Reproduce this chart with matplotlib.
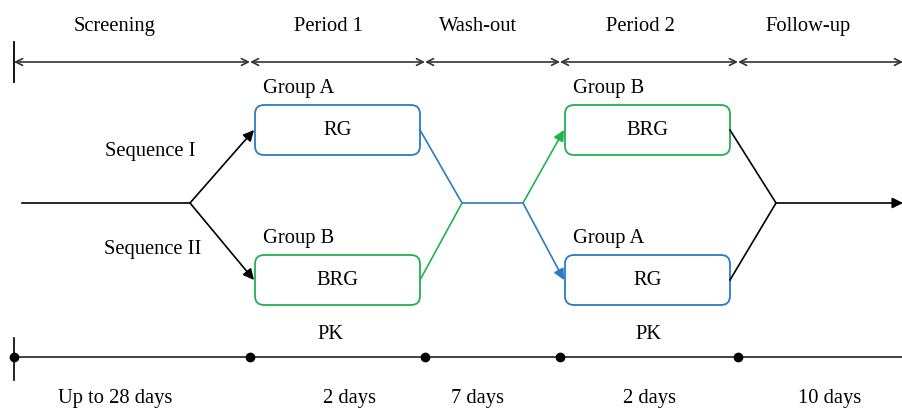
import matplotlib.pyplot as plt
from matplotlib.patches import FancyBboxPatch

plt.rcParams['font.family'] = ['Liberation Serif', 'DejaVu Serif']

# Labels
phases = ['Screening', 'Period 1', 'Wash-out', 'Period 2', 'Follow-up']
durations = ['Up to 28 days', '2 days', '7 days', '2 days', '10 days']
sequences = ['Sequence I', 'Sequence II']
groups_p1 = ['Group A', 'Group B']
groups_p2 = ['Group B', 'Group A']
drugs_p1 = ['RG', 'BRG']
drugs_p2 = ['BRG', 'RG']
pk_label = 'PK'

blue = '#2a7cc2'
green = '#23b14d'

# layout (pixel coordinates)
bounds = [14, 250, 425, 560, 738, 903]
phase_x = [115, 328, 478, 640, 808]
dur_x = [115, 350, 478, 650, 830]
top_y, bot_y, mid_y = 62, 357, 203
row_y = [130, 280]
fs = 14.8

fig = plt.figure(figsize=(9.03, 4.08), dpi=100)
ax = fig.add_axes([0, 0, 1, 1])
ax.set_xlim(0, 903)
ax.set_ylim(408, 0)
ax.axis('off')

# top timeline
ax.plot([14, 14], [42, 82], color='black', lw=1.3)
for i, name in enumerate(phases):
    ax.annotate('', xy=(bounds[i + 1], top_y), xytext=(bounds[i], top_y),
                arrowprops=dict(arrowstyle='<->', color='#333333', lw=1.2,
                                shrinkA=0, shrinkB=0, mutation_scale=12))
    ax.text(phase_x[i], 31, name, ha='center', va='baseline', fontsize=fs)

# boxes
def box(x0, y0, color, group, drug):
    ax.add_patch(FancyBboxPatch((x0, y0), 165, 50,
                                boxstyle='round,pad=0,rounding_size=9',
                                fc='white', ec=color, lw=1.3))
    ax.text(x0 + 8, y0 - 12, group, ha='left', va='baseline', fontsize=fs)
    ax.text(x0 + 83, y0 + 30, drug, ha='center', va='baseline', fontsize=fs)

box(255, 105, blue, groups_p1[0], drugs_p1[0])
box(255, 255, green, groups_p1[1], drugs_p1[1])
box(565, 105, green, groups_p2[0], drugs_p2[0])
box(565, 255, blue, groups_p2[1], drugs_p2[1])

ax.text(150, 156, sequences[0], ha='center', va='baseline', fontsize=fs)
ax.text(153, 254, sequences[1], ha='center', va='baseline', fontsize=fs)

def arrow(p0, p1, color):
    ax.annotate('', xy=p1, xytext=p0,
                arrowprops=dict(arrowstyle='-|>', color=color, lw=1.2,
                                shrinkA=0, shrinkB=0, mutation_scale=16))

# flow lines
ax.plot([22, 190], [mid_y, mid_y], color='black', lw=1.2)
arrow((190, mid_y), (254, row_y[0]), 'black')
arrow((190, mid_y), (254, row_y[1]), 'black')
ax.plot([420, 462, 523], [row_y[0], mid_y, mid_y], color=blue, lw=1.2)
ax.plot([420, 462], [row_y[1], mid_y], color=green, lw=1.2)
arrow((523, mid_y), (564, row_y[0]), green)
arrow((523, mid_y), (564, row_y[1]), blue)
ax.plot([730, 776, 730], [row_y[0], mid_y, row_y[1]], color='black', lw=1.2)
arrow((776, mid_y), (903, mid_y), 'black')

# bottom timeline
ax.plot([14, 903], [bot_y, bot_y], color='#333333', lw=1.3)
ax.plot([14, 14], [338, 380], color='black', lw=1.2)
ax.plot(bounds[:-1], [bot_y] * 5, 'o', color='black', ms=6)
ax.text(330, 339, pk_label, ha='center', va='baseline', fontsize=fs)
ax.text(648, 339, pk_label, ha='center', va='baseline', fontsize=fs)
for x, d in zip(dur_x, durations):
    ax.text(x, 403, d, ha='center', va='baseline', fontsize=fs)

fig.savefig('out.png', dpi=100)
